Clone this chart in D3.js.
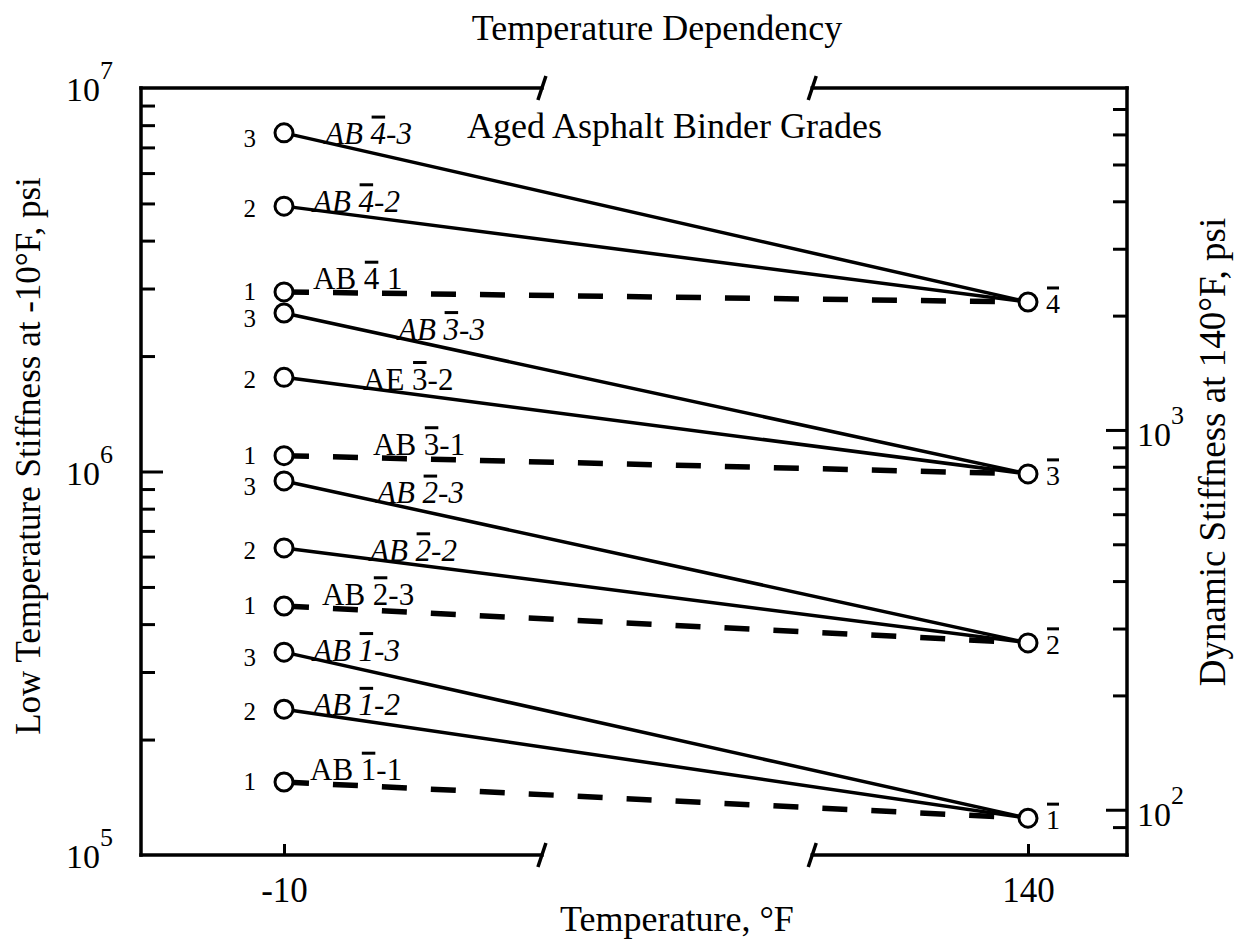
<!DOCTYPE html>
<html>
<meta charset="utf-8">
<head>
<style>
body { margin: 0; background: white; }
text { font-family: "Liberation Serif", "Times New Roman", serif; fill: black; }
.frame { stroke: black; stroke-width: 3.5; fill: none; stroke-linecap: square; }
.brk { stroke: black; stroke-width: 3.5; fill: none; }
.solid { stroke: black; stroke-width: 3.5; fill: none; }
.dash { stroke: black; stroke-width: 5.5; stroke-dasharray: 25, 24; fill: none; }
.pt { fill: white; stroke: black; stroke-width: 3; }
.tick line { stroke: black; stroke-width: 3; }
.bar { stroke: black; stroke-width: 3; }
</style>
</head>
<body>
<div id="viz"></div>
<script src="https://cdn.jsdelivr.net/npm/d3@7"></script>
<script>
const width = 1253;
const height = 945;
const top_y = 88;
const bottom_y = 855;
const left_x = 141;
const right_x = 1127;

// aged binder grades (drawn with an overbar) and the sub grades 1..3
const grades = ['1', '2', '3', '4'];
const subgrades = ['1', '2', '3'];
const temps = [-10, 140];

// low temperature stiffness at -10F, psi (sub grade 1, 2, 3)
const stiff_g1 = [1.55e5, 2.40e5, 3.38e5];
const stiff_g2 = [4.46e5, 6.32e5, 9.45e5];
const stiff_g3 = [1.10e6, 1.76e6, 2.59e6];
const stiff_g4 = [2.94e6, 4.92e6, 7.64e6];
const low_stiffness = [stiff_g1, stiff_g2, stiff_g3, stiff_g4];

// dynamic stiffness at 140F, psi (grade 1..4)
const dynamic_stiffness = [95, 275, 766, 2172];

// line labels as printed (digit at index 3 carries the overbar)
const labels_g1 = ['AB 1-1', 'AB 1-2', 'AB 1-3'];
const labels_g2 = ['AB 2-3', 'AB 2-2', 'AB 2-3'];
const labels_g3 = ['AB 3-1', 'AE 3-2', 'AB 3-3'];
const labels_g4 = ['AB 4 1', 'AB 4-2', 'AB 4-3'];
const line_labels = [labels_g1, labels_g2, labels_g3, labels_g4];

const left_ticks = [2e5, 3e5, 4e5, 5e5, 6e5, 7e5, 8e5, 9e5, 1e6,
    2e6, 3e6, 4e6, 5e6, 6e6, 7e6, 8e6, 9e6];
const right_ticks = [90, 100, 200, 300, 400, 500, 600, 700, 800, 900, 1000,
    2000, 3000, 4000, 5000, 6000, 7000];
const left_decades = [1e5, 1e6, 1e7];
const right_decades = [1e2, 1e3];

// label placement (px right of the left circle) and style
const label_dx = [[26, 29, 29], [38, 86, 93], [89, 79, 114], [29, 29, 41]];
const label_italic = [[false, true, true], [false, true, true], [false, false, true], [false, true, true]];
const sub_dy = [-1, 2, 5];

const svg = d3.select('#viz')
    .append('svg')
    .attr('width', width)
    .attr('height', height);

const x = d3.scaleLinear().domain(temps).range([284, 1028]);
const yLeft = d3.scaleLog().domain([1e5, 1e7]).range([bottom_y, top_y]);
const yRight = d3.scaleLog().domain([76, 7950]).range([bottom_y, top_y]);

// axes (ticks point inward)
const axL = svg.append('g')
    .attr('transform', `translate(${left_x},0)`)
    .call(d3.axisLeft(yLeft).tickValues(left_ticks).tickSizeInner(-14).tickSizeOuter(0).tickFormat(''));
axL.select('.domain').remove();
axL.selectAll('.tick line').filter(d => d === 1e6).attr('x2', 22);

const axR = svg.append('g')
    .attr('transform', `translate(${right_x},0)`)
    .call(d3.axisRight(yRight).tickValues(right_ticks).tickSizeInner(-14).tickSizeOuter(0).tickFormat(''));
axR.select('.domain').remove();
axR.selectAll('.tick line').filter(d => d === 100 || d === 1000).attr('x2', -21);

const axB = svg.append('g')
    .attr('transform', `translate(0,${bottom_y})`)
    .call(d3.axisBottom(x).tickValues(temps).tickSizeInner(-11).tickSizeOuter(0)
        .tickPadding(22).tickFormat(d => String(d)));
axB.select('.domain').remove();
axB.attr('font-family', null).attr('font-size', null);
axB.selectAll('text').style('font-size', '35px');

function decade(v, xx, yy, anchor) {
    const t = svg.append('text')
        .attr('x', xx)
        .attr('y', yy)
        .attr('text-anchor', anchor)
        .style('font-size', '34px');
    t.append('tspan').text('10');
    t.append('tspan').attr('dy', -22).style('font-size', '26px').text(Math.round(Math.log10(v)));
}
left_decades.forEach(v => decade(v, 113, yLeft(v) + 13, 'end'));
right_decades.forEach(v => decade(v, 1137, yRight(v) + 16, 'start'));

// frame with axis breaks
const brk_lo = x(42);
const brk_hi = x(96.5);
const frame = svg.append('g');
[[left_x, top_y, left_x, bottom_y], [right_x, top_y, right_x, bottom_y],
 [left_x, top_y, brk_lo, top_y], [brk_hi, top_y, right_x, top_y],
 [left_x, bottom_y, brk_lo, bottom_y], [brk_hi, bottom_y, right_x, bottom_y]]
    .forEach(s => frame.append('line').attr('class', 'frame')
        .attr('x1', s[0]).attr('y1', s[1]).attr('x2', s[2]).attr('y2', s[3]));
[brk_lo, brk_hi].forEach(bx => [top_y, bottom_y].forEach(by => {
    frame.append('line').attr('class', 'brk')
        .attr('x1', bx - 4).attr('y1', by + 12)
        .attr('x2', bx + 4).attr('y2', by - 12);
}));

// lines from each sub grade to its grade
const rows = [];
grades.forEach((g, gi) => subgrades.forEach((s, si) => {
    rows.push({ gi: gi, si: si, v: low_stiffness[gi][si], w: dynamic_stiffness[gi], label: line_labels[gi][si] });
}));

const lines = svg.append('g');
rows.forEach(d => {
    lines.append('line')
        .attr('class', d.si === 0 ? 'dash' : 'solid')
        .attr('x1', x(temps[0])).attr('y1', yLeft(d.v))
        .attr('x2', x(temps[1])).attr('y2', yRight(d.w));
});

function overbar(textNode, idx, fs) {
    const r = textNode.getExtentOfChar(idx);
    const base = +textNode.getAttribute('y');
    svg.append('line').attr('class', 'bar')
        .attr('x1', r.x + 1).attr('x2', r.x + r.width - 1)
        .attr('y1', base - fs * 0.68 - 6).attr('y2', base - fs * 0.68 - 6);
}

// line labels
rows.forEach(d => {
    const x0 = x(temps[0]);
    const x1 = x(temps[1]);
    const lx = x0 + label_dx[d.gi][d.si];
    const ly0 = yLeft(d.v);
    const ly1 = yRight(d.w);
    const ly = ly0 + (ly1 - ly0) * (lx - x0) / (x1 - x0) + (d.si === 0 ? -3 : 2);
    const t = svg.append('text')
        .attr('x', lx)
        .attr('y', ly)
        .style('font-size', '31px')
        .style('font-style', label_italic[d.gi][d.si] ? 'italic' : 'normal')
        .text(d.label);
    overbar(t.node(), 3, 31);
});

// circles
rows.forEach(d => {
    svg.append('circle').attr('class', 'pt')
        .attr('cx', x(temps[0])).attr('cy', yLeft(d.v)).attr('r', 9);
    svg.append('text')
        .attr('x', x(temps[0]) - 28)
        .attr('y', yLeft(d.v) + sub_dy[d.si])
        .attr('dy', '0.36em')
        .attr('text-anchor', 'end')
        .style('font-size', '25px')
        .text(subgrades[d.si]);
});
grades.forEach((g, gi) => {
    svg.append('circle').attr('class', 'pt')
        .attr('cx', x(temps[1])).attr('cy', yRight(dynamic_stiffness[gi])).attr('r', 9);
    const t = svg.append('text')
        .attr('x', x(temps[1]) + 18)
        .attr('y', yRight(dynamic_stiffness[gi]) + 11)
        .style('font-size', '28px')
        .text(g);
    overbar(t.node(), 0, 28);
});

// titles
svg.append('text')
    .attr('x', 657).attr('y', 40)
    .attr('text-anchor', 'middle')
    .style('font-size', '36px')
    .text('Temperature Dependency');

svg.append('text')
    .attr('x', 467).attr('y', 138)
    .style('font-size', '36px')
    .text('Aged Asphalt Binder Grades');

svg.append('text')
    .attr('x', 677).attr('y', 931)
    .attr('text-anchor', 'middle')
    .style('font-size', '36px')
    .text('Temperature, °F');

svg.append('text')
    .attr('transform', 'translate(40,456) rotate(-90)')
    .attr('text-anchor', 'middle')
    .style('font-size', '35px')
    .text('Low Temperature Stiffness at -10°F, psi');

svg.append('text')
    .attr('transform', 'translate(1225,452) rotate(-90)')
    .attr('text-anchor', 'middle')
    .style('font-size', '37px')
    .text('Dynamic Stiffness at 140°F, psi');
</script>
</body>
</html>
